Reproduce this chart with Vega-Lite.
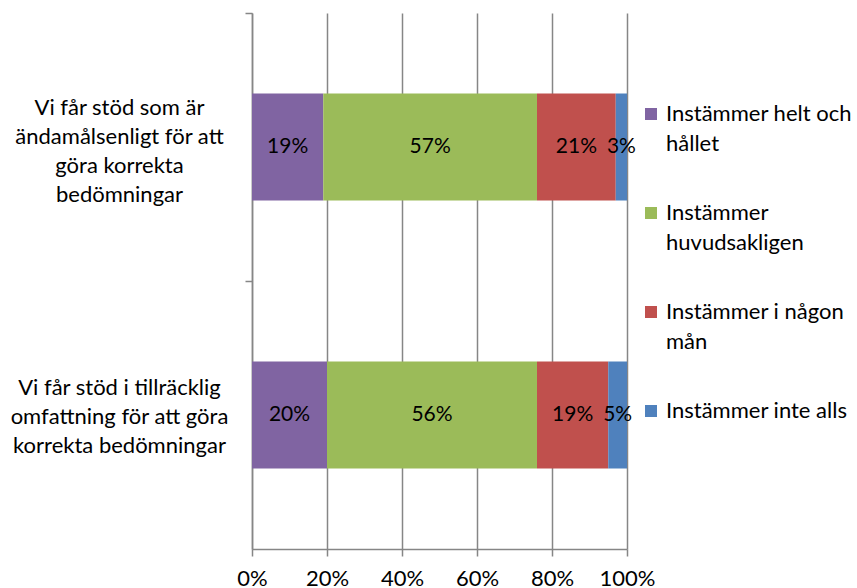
{
  "$schema": "https://vega.github.io/schema/vega-lite/v6.json",
  "width": 375,
  "height": 536,
  "autosize": {"type": "none"},
  "padding": {"left": 252, "top": 13, "right": 230, "bottom": 39},
  "background": "white",
  "data": {
    "values": [
      {"fraga": "Vi får stöd som är ändamålsenligt för att göra korrekta bedömningar", "svar": "Instämmer helt och hållet", "andel": 0.19},
      {"fraga": "Vi får stöd som är ändamålsenligt för att göra korrekta bedömningar", "svar": "Instämmer huvudsakligen", "andel": 0.57},
      {"fraga": "Vi får stöd som är ändamålsenligt för att göra korrekta bedömningar", "svar": "Instämmer i någon mån", "andel": 0.21},
      {"fraga": "Vi får stöd som är ändamålsenligt för att göra korrekta bedömningar", "svar": "Instämmer inte alls", "andel": 0.03},
      {"fraga": "Vi får stöd i tillräcklig omfattning för att göra korrekta bedömningar", "svar": "Instämmer helt och hållet", "andel": 0.20},
      {"fraga": "Vi får stöd i tillräcklig omfattning för att göra korrekta bedömningar", "svar": "Instämmer huvudsakligen", "andel": 0.56},
      {"fraga": "Vi får stöd i tillräcklig omfattning för att göra korrekta bedömningar", "svar": "Instämmer i någon mån", "andel": 0.19},
      {"fraga": "Vi får stöd i tillräcklig omfattning för att göra korrekta bedömningar", "svar": "Instämmer inte alls", "andel": 0.05}
    ]
  },
  "encoding": {
    "y": {
      "field": "fraga",
      "type": "nominal",
      "title": null,
      "sort": [
        "Vi får stöd som är ändamålsenligt för att göra korrekta bedömningar",
        "Vi får stöd i tillräcklig omfattning för att göra korrekta bedömningar"
      ],
      "scale": {"paddingInner": 0.6, "paddingOuter": 0.3},
      "axis": {
        "ticks": true,
        "tickSize": 7,
        "tickColor": "#868686",
        "tickWidth": 1.5,
        "tickOffset": -134,
        "domainColor": "#868686",
        "domainWidth": 1.5,
        "labelAlign": "center",
        "labelBaseline": "middle",
        "labelPadding": 126,
        "labelOffset": {"condition": {"test": "indexof(datum.value, 'som är') >= 0", "value": 94}, "value": 106},
        "labelFontSize": 22,
        "labelLineHeight": 29,
        "labelColor": "#000000",
        "labelFont": "Lato",
        "labelLimit": 300,
        "labelExpr": "indexof(datum.value, 'som är') >= 0 ? ['Vi får stöd som är', 'ändamålsenligt för att', 'göra korrekta', 'bedömningar'] : ['Vi får stöd i tillräcklig', 'omfattning för att göra', 'korrekta bedömningar']"
      }
    },
    "x": {
      "field": "andel",
      "type": "quantitative",
      "stack": "zero",
      "title": null,
      "scale": {"domain": [0, 1], "nice": false},
      "axis": {
        "values": [0, 0.2, 0.4, 0.6, 0.8, 1],
        "format": ".0%",
        "grid": true,
        "gridColor": "#868686",
        "gridWidth": 1.5,
        "tickSize": 7,
        "tickColor": "#868686",
        "tickWidth": 1.5,
        "domainColor": "#868686",
        "domainWidth": 1.5,
        "labelFontSize": 22,
        "labelFont": "Lato",
        "labelColor": "#000000",
        "labelPadding": 12,
        "labelOverlap": false,
        "labelFlush": false,
        "labelBound": false
      }
    }
  },
  "layer": [
    {
      "mark": {"type": "bar"},
      "encoding": {
        "order": {"field": "svar", "type": "ordinal", "sort": "ascending"},
        "color": {
          "field": "svar",
          "type": "nominal",
          "title": null,
          "scale": {
            "domain": ["Instämmer helt och hållet", "Instämmer huvudsakligen", "Instämmer i någon mån", "Instämmer inte alls"],
            "range": ["#8064A2", "#9BBB59", "#C0504D", "#4F81BD"]
          },
          "legend": {
            "orient": "none",
            "legendX": 388,
            "legendY": 90,
            "symbolType": "square",
            "symbolSize": 144,
            "symbolStrokeWidth": 0,
            "labelFontSize": 22,
            "labelFont": "Lato",
            "labelColor": "#000000",
            "labelLimit": 300,
            "labelOffset": 4,
            "rowPadding": 47,
            "labelExpr": "datum.value == 'Instämmer helt och hållet' ? ['Instämmer helt och', 'hållet'] : datum.value == 'Instämmer huvudsakligen' ? ['Instämmer', 'huvudsakligen'] : datum.value == 'Instämmer i någon mån' ? ['Instämmer i någon', 'mån'] : datum.value"
          }
        }
      }
    },
    {
      "mark": {"type": "text", "fontSize": 21, "font": "Lato", "color": "#000000"},
      "encoding": {
        "x": {"field": "andel", "type": "quantitative", "stack": "zero", "bandPosition": 0.5},
        "order": {"field": "svar", "type": "ordinal", "sort": "ascending"},
        "detail": {"field": "svar"},
        "text": {"field": "andel", "format": ".0%"}
      }
    }
  ],
  "config": {
    "view": {"stroke": null},
    "font": "Lato",
    "style": {"guide-label": {"lineHeight": 30}}
  }
}
